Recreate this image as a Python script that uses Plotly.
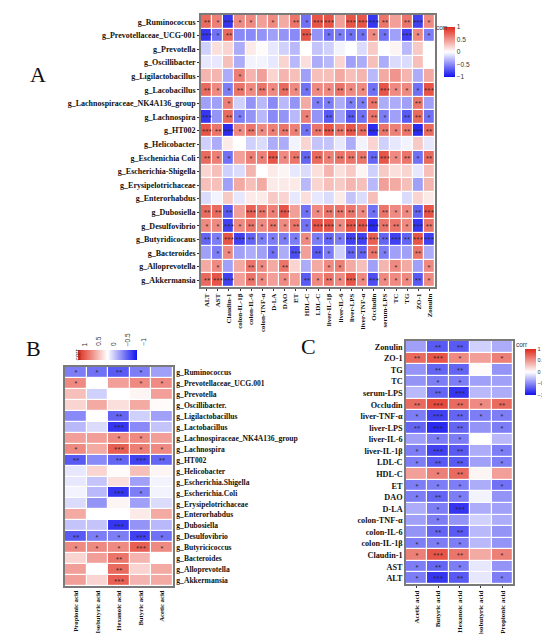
import plotly.graph_objects as go

# ---------------------------------------------------------------- data
genera_a = [
    "g_Ruminococcus", "g_Prevotellaceae_UCG-001", "g_Prevotella", "g_Oscillibacter",
    "g_Ligilactobacillus", "g_Lacobacillus", "g_Lachnospiraceae_NK4A136_group",
    "g_Lachnospira", "g_HT002", "g_Helicobacter", "g_Eschenichia Coli",
    "g_Escherichia-Shigella", "g_Erysipelotrichaceae", "g_Enterorhabdus",
    "g_Dubosiella", "g_Desulfovibrio", "g_Butyridicocaus", "g_Bacteroides",
    "g_Alloprevotella", "g_Akkermansia",
]
markers_a = [
    "ALT", "AST", "Claudin-1", "colon-IL-1β", "colon-IL-6", "colon-TNF-α", "D-LA",
    "DAO", "ET", "HDL-C", "LDL-C", "liver-IL-1β", "liver-IL-6", "liver-LPS",
    "liver-TNF-α", "Occludin", "serum-LPS", "TC", "TG", "ZO-1", "Zonulin",
]
corr_a = [
    [.70, .60, -.85, .55, .55, .45, .55, .40, .65, -.60, .80, .80, .45, .80, .80, -.85, .65, .45, .65, -.80, .55],
    [-.85, -.60, .70, -.50, -.50, -.45, -.40, -.45, -.50, .80, -.45, -.60, -.55, -.60, -.60, .55, -.60, -.40, -.80, .55, -.55],
    [-.20, .15, .20, -.35, .10, .02, -.10, -.20, -.30, 0, -.25, -.20, -.05, 0, -.15, .25, 0, .05, -.30, .25, 0],
    [-.10, -.10, .30, -.35, -.05, -.05, -.10, .20, -.30, .15, -.35, -.30, .20, -.40, -.35, .30, -.35, -.15, -.15, .30, 0],
    [.35, .35, -.35, .60, .35, .45, .20, .35, .30, -.40, .30, .30, .40, .30, .35, -.30, .40, .50, .35, -.35, .40],
    [.70, .55, -.55, .65, .55, .65, .55, .70, .55, -.60, .55, .55, .65, .55, .55, -.60, .80, .55, .55, -.60, .80],
    [-.40, -.40, .60, -.20, -.45, -.30, -.50, -.30, -.45, .40, -.55, -.55, -.35, -.55, -.55, .65, -.35, -.35, -.40, .65, -.40],
    [-.85, -.45, .70, -.55, -.45, -.30, -.50, -.45, -.30, .60, -.45, -.70, -.40, -.70, -.60, .65, -.55, -.40, -.70, .70, -.60],
    [.80, .65, -.90, .55, .65, .55, .60, .65, .60, -.60, .65, .80, .65, .80, .70, -.90, .65, .60, .65, -.90, .70],
    [-.20, -.35, .10, 0, -.20, -.15, -.35, -.35, -.05, .20, -.25, -.25, -.10, -.35, -.05, .20, -.20, -.10, -.05, .25, -.10],
    [.70, .60, -.60, .45, .60, .60, .80, .55, .65, -.65, .70, .60, .65, .65, .65, -.65, .80, .55, .65, -.60, .70],
    [.20, .30, -.20, -.15, .35, 0, .10, .05, -.10, -.15, .15, .35, .15, .25, .05, -.20, .25, .15, .20, -.10, .30],
    [.30, .30, -.40, .40, .30, .40, .10, .10, .10, -.30, .20, .30, .25, .35, .30, -.30, .45, .40, .30, -.40, .35],
    [-.15, -.05, .25, -.10, .10, .10, .25, .20, -.10, .15, -.10, -.15, .10, -.25, -.15, .30, 0, 0, -.15, .20, .10],
    [.70, .70, -.70, .45, .75, .65, .60, .80, .45, -.60, .55, .65, .65, .65, .55, -.60, .65, .55, .55, -.65, .80],
    [.55, .55, -.80, .55, .65, .55, .65, .55, .65, -.60, .80, .80, .55, .80, .80, -.90, .65, .65, .55, -.85, .65],
    [-.65, -.55, .80, -.80, -.65, -.55, -.55, -.55, -.55, .55, -.55, -.65, -.55, -.80, -.80, .75, -.65, -.80, -.65, .80, -.80],
    [-.40, -.55, .55, -.40, -.35, -.40, -.60, -.35, -.75, .45, -.70, -.55, -.20, -.65, -.65, .65, -.55, -.40, -.40, .65, -.35],
    [.40, .55, -.40, .40, .65, .55, .40, .65, .20, -.35, .40, .55, .60, .40, .30, -.40, .35, .55, .40, -.40, .55],
    [.70, .80, -.80, .45, .65, .55, .45, .55, .45, -.70, .55, .65, .55, .80, .55, -.75, .55, .55, .55, -.70, .55],
]

genera_b = [
    "g_Ruminococcus", "g_Prevotellaceae_UCG.001", "g_Prevotella", "g_Oscillibacter.",
    "g_Ligilactobacillus", "g_Lactobacillus", "g_Lachnospiraceae_NK4A136_group",
    "g_Lachnospira", "g_HT002", "g_Helicobacter", "g_Escherichia.Shigella",
    "g_Escherichia.Coli", "g_Erysipelotrichaceae", "g_Enterorhabdus", "g_Dubosiella",
    "g_Desulfovibrio", "g_Butyricicoccus", "g_Bacteroides", "g_Alloprevotella",
    "g_Akkermansia",
]
acids_b = ["Propionic acid", "Isobutyric acid", "Hexanoic acid", "Butyric acid", "Acetic acid"]
corr_b = [
    [-.55, -.60, -.70, -.55, -.40],
    [.55, 0, .45, .55, .55],
    [.30, -.20, 0, .05, .45],
    [.20, .40, .15, .40, .02],
    [-.50, 0, -.65, -.20, -.40],
    [-.30, -.15, -.85, -.50, -.25],
    [.45, .45, .55, .55, .45],
    [.55, .40, .75, .60, .55],
    [-.70, -.50, -.65, -.80, -.65],
    [-.10, .20, .02, .30, .05],
    [-.10, -.25, .15, -.40, -.05],
    [-.05, -.30, -.85, -.55, -.05],
    [-.15, -.45, .05, -.40, -.15],
    [.40, 0, 0, .10, .40],
    [-.25, -.25, -.85, -.45, -.30],
    [-.70, -.55, -.55, -.80, -.60],
    [.55, .55, .55, .75, .55],
    [.20, .45, .65, .35, 0],
    [.45, 0, .70, .20, .40],
    [.45, .20, .75, .35, .40],
]

markers_c = [
    "Zonulin", "ZO-1", "TG", "TC", "serum-LPS", "Occludin", "liver-TNF-α", "liver-LPS",
    "liver-IL-6", "liver-IL-1β", "LDL-C", "HDL-C", "ET", "DAO", "D-LA", "colon-TNF-α",
    "colon-IL-6", "colon-IL-1β", "Claudin-1", "AST", "ALT",
]
acids_c = ["Acetic acid", "Butyric acid", "Hexanoic acid", "Isobutyric acid", "Propionic acid"]
corr_c = [
    [-.40, -.70, -.70, -.20, -.35],
    [.70, .80, .55, .45, .60],
    [-.45, -.65, -.65, .02, -.45],
    [-.45, -.55, -.55, -.40, -.40],
    [-.30, -.65, -.85, -.30, -.35],
    [.70, .85, .70, .55, .70],
    [-.55, -.80, -.65, -.55, -.55],
    [-.65, -.90, -.65, -.45, -.55],
    [-.40, -.55, -.55, 0, -.30],
    [-.55, -.80, -.70, -.35, -.55],
    [-.55, -.70, -.70, -.40, -.55],
    [.45, .60, .70, .05, .45],
    [-.55, -.55, -.55, -.35, -.60],
    [-.55, -.65, -.55, -.05, -.45],
    [-.35, -.55, -.85, -.35, -.40],
    [-.40, -.55, -.45, -.20, -.35],
    [-.45, -.65, -.70, -.30, -.45],
    [-.55, -.55, -.55, -.30, -.45],
    [.60, .80, .65, .40, .60],
    [-.55, -.65, -.55, -.10, -.45],
    [-.55, -.85, -.70, -.10, -.55],
]

cbar_ticks = [1, 0.5, 0, -0.5, -1]

# ---------------------------------------------------------------- style
SCALE = [[0, "#1212ee"], [0.5, "#ffffff"], [1, "#e02a1a"]]
SCALE_REV = [[0, "#e02a1a"], [0.5, "#ffffff"], [1, "#1212ee"]]
SERIF = "Liberation Serif"
SANS = "Liberation Sans"
W, H = 550, 634


def stars(rows):
    out = []
    for r in rows:
        line = []
        for v in r:
            a = abs(v)
            line.append("***" if a >= 0.75 else "**" if a >= 0.65 else "*" if a >= 0.55 else "")
        out.append(line)
    return out


def px(x):
    return x / W


def py(y):
    return 1 - y / H


def vbar(x0, y0, y1, fs):
    return dict(x=px(x0), xanchor="left", y=py((y0 + y1) / 2), yanchor="middle",
                len=(y1 - y0) / H, thickness=11, outlinewidth=0, ticks="", xpad=0, ypad=0,
                tickvals=cbar_ticks,
                tickfont=dict(family=SANS, size=fs, color="#333"))


fig = go.Figure()

# A
fig.add_trace(go.Heatmap(
    z=corr_a, x=markers_a, y=genera_a, text=stars(corr_a), texttemplate="%{text}",
    textfont=dict(size=6, color="#222"), colorscale=SCALE, zmin=-1, zmax=1,
    xgap=1.2, ygap=1.2, xaxis="x", yaxis="y", colorbar=vbar(436, 19, 69, 6.5),
))

# B  (colorbar drawn 1 -> -1 from left to right)
neg_b = [[-v for v in r] for r in corr_b]
fig.add_trace(go.Heatmap(
    z=neg_b, customdata=corr_b, x=acids_b, y=genera_b, text=stars(corr_b),
    texttemplate="%{text}", textfont=dict(size=6, color="#222"),
    hovertemplate="%{y}<br>%{x}<br>corr=%{customdata}<extra></extra>",
    colorscale=SCALE_REV, zmin=-1, zmax=1, xgap=1.2, ygap=1.2, xaxis="x2", yaxis="y2",
    colorbar=dict(orientation="h", x=px(99.5), xanchor="center", y=py(347), yanchor="middle",
                  len=59 / W, thickness=10, outlinewidth=0, ticks="", xpad=0, ypad=0,
                  showticklabels=False),
))

# C
fig.add_trace(go.Heatmap(
    z=corr_c, x=acids_c, y=markers_c, text=stars(corr_c), texttemplate="%{text}",
    textfont=dict(size=6, color="#222"), colorscale=SCALE, zmin=-1, zmax=1,
    xgap=1.2, ygap=1.2, xaxis="x3", yaxis="y3", colorbar=vbar(517, 341, 387, 5.5),
))

frame = dict(showline=True, mirror=True, linecolor="#7a7a7a", linewidth=1.6,
             showgrid=False, zeroline=False)
lab = dict(family=SERIF, size=8, color="#111", weight="bold")
collab = dict(family=SERIF, size=7, color="#111", weight="bold")


def cat(vals):
    return dict(tickmode="array", tickvals=vals, ticktext=vals)


fig.update_layout(
    width=W, height=H, margin=dict(l=0, r=0, t=0, b=0),
    paper_bgcolor="white", plot_bgcolor="white", showlegend=False,
    xaxis=dict(domain=[px(193), px(427)], anchor="y", tickangle=-90, tickfont=collab,
               ticks="outside", ticklen=2, tickcolor="#333", **cat(markers_a), **frame),
    yaxis=dict(domain=[py(279), py(7)], anchor="x", autorange="reversed", tickfont=lab,
               ticks="outside", ticklen=2, tickcolor="#333", **cat(genera_a), **frame),
    xaxis2=dict(domain=[px(57), px(165)], anchor="y2", tickangle=-90,
                tickfont=dict(collab, size=6.7), ticks="", **cat(acids_b), **frame),
    yaxis2=dict(domain=[py(578), py(359)], anchor="x2", autorange="reversed", side="right",
                tickfont=dict(lab, size=7.6), ticks="", ticklabelstandoff=0,
                **cat(genera_b), **frame),
    xaxis3=dict(domain=[px(398), px(505)], anchor="y3", tickangle=-90, tickfont=collab,
                ticks="outside", ticklen=2, tickcolor="#333", **cat(acids_c), **frame),
    yaxis3=dict(domain=[py(576), py(333)], anchor="x3", autorange="reversed",
                tickfont=dict(lab, size=8.2), ticks="", **cat(markers_c), **frame),
)

# panel letters
for letter, x, y in [("A", 20, 52), ("B", 16, 340), ("C", 300, 338)]:
    fig.add_annotation(text=letter, x=px(x), y=py(y), xref="paper", yref="paper",
                       showarrow=False, font=dict(family=SERIF, size=22, color="#111"))

# colorbar titles
for x, y in [(441.5, 14), (522, 336)]:
    fig.add_annotation(text="corr", x=px(x), y=py(y), xref="paper", yref="paper",
                       showarrow=False, font=dict(family=SANS, size=6.5, color="#333"))

# B colorbar labels (rotated, above the bar)
for t in cbar_ticks:
    fig.add_annotation(text=f"{t:g}".replace("-", "−"), x=px(70 + (1 - t) / 2 * 59), y=py(340),
                       xref="paper", yref="paper", yanchor="bottom", showarrow=False,
                       textangle=-90, font=dict(family=SANS, size=6.5, color="#333"))
fig.add_annotation(text="corr", x=px(63), y=py(347), xref="paper", yref="paper",
                   showarrow=False, textangle=-90, font=dict(family=SANS, size=6.5, color="#333"))

fig.write_html("out.html")
